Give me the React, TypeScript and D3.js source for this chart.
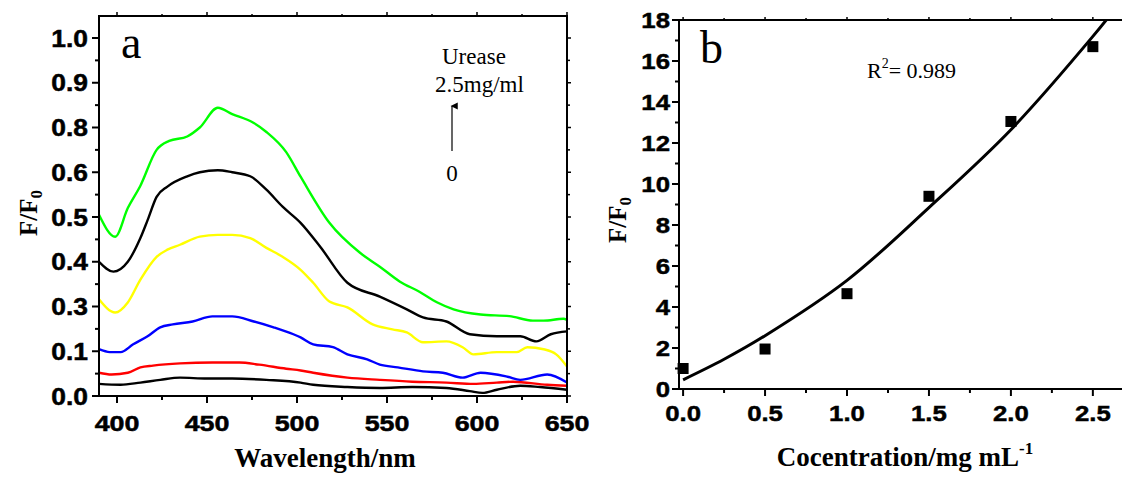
import React from "react";
import * as d3 from "d3";

const wavelengthTicks = [400, 450, 500, 550, 600, 650];
const ratioTickValues = [0, 0.1, 0.3, 0.4, 0.5, 0.6, 0.8, 0.9, 1.0];
const ratioTickLabels = ["0.0", "0.1", "0.3", "0.4", "0.5", "0.6", "0.8", "0.9", "1.0"];

const spectrum0: [number, number][] = [
  [390, 0.027], [402, 0.025], [413, 0.03], [424, 0.036], [435, 0.041], [450, 0.039],
  [464, 0.039], [483, 0.036], [502, 0.03], [509, 0.025], [528, 0.02], [546, 0.018],
  [564, 0.02], [583, 0.018], [596, 0.011], [603, 0.007], [611, 0.014], [624, 0.023],
  [635, 0.02], [650, 0.014],
];
const spectrum1: [number, number][] = [
  [390, 0.052], [397, 0.048], [406, 0.052], [413, 0.064], [420, 0.068], [435, 0.073],
  [453, 0.075], [468, 0.075], [479, 0.07], [494, 0.061], [502, 0.057], [509, 0.052],
  [528, 0.041], [546, 0.036], [564, 0.032], [583, 0.03], [598, 0.027], [611, 0.03],
  [620, 0.032], [639, 0.025], [650, 0.023],
];
const spectrum2: [number, number][] = [
  [390, 0.109], [396, 0.098], [402, 0.098], [409, 0.131], [417, 0.167], [424, 0.207],
  [431, 0.22], [442, 0.233], [453, 0.256], [464, 0.256], [476, 0.233], [487, 0.207],
  [498, 0.176], [502, 0.162], [509, 0.131], [520, 0.118], [528, 0.093], [539, 0.082],
  [546, 0.07], [556, 0.064], [570, 0.055], [581, 0.052], [592, 0.041], [602, 0.052],
  [617, 0.043], [624, 0.036], [639, 0.048], [650, 0.03],
];
const spectrum3: [number, number][] = [
  [390, 0.316], [399, 0.273], [406, 0.309], [413, 0.36], [422, 0.411], [428, 0.427],
  [435, 0.438], [446, 0.456], [456, 0.46], [464, 0.46], [474, 0.453], [483, 0.431],
  [492, 0.411], [502, 0.382], [509, 0.353], [518, 0.311], [528, 0.296], [542, 0.22],
  [553, 0.198], [561, 0.184], [570, 0.14], [583, 0.144], [592, 0.118], [598, 0.093],
  [611, 0.098], [622, 0.098], [628, 0.118], [637, 0.109], [644, 0.093], [650, 0.066],
];
const spectrum4: [number, number][] = [
  [390, 0.4], [398, 0.378], [406, 0.4], [413, 0.453], [417, 0.493], [422, 0.545],
  [428, 0.568], [439, 0.591], [446, 0.6], [456, 0.609], [464, 0.6], [474, 0.591],
  [483, 0.561], [492, 0.523], [502, 0.487], [513, 0.433], [528, 0.353], [546, 0.322],
  [561, 0.287], [570, 0.251], [583, 0.233], [596, 0.176], [611, 0.167], [624, 0.167],
  [633, 0.144], [641, 0.176], [650, 0.189],
];
const spectrum5: [number, number][] = [
  [390, 0.505], [399, 0.456], [406, 0.52], [413, 0.57], [422, 0.7], [429, 0.74],
  [439, 0.76], [446, 0.8], [456, 0.844], [464, 0.83], [476, 0.81], [483, 0.78],
  [494, 0.69], [502, 0.59], [518, 0.487], [535, 0.42], [546, 0.389], [557, 0.356],
  [568, 0.333], [578, 0.309], [587, 0.287], [602, 0.264], [618, 0.257], [631, 0.237],
  [637, 0.237], [648, 0.245], [650, 0.24],
];
const spectra = [spectrum0, spectrum1, spectrum2, spectrum3, spectrum4, spectrum5];
const spectrumColors = ["#000000", "#ff0000", "#0000ff", "#ffff00", "#000000", "#00ff00"];

// panel b: F/F0 vs concentration, plus the fitted curve
const concentrations = [0, 0.5, 1.0, 1.5, 2.0, 2.5];
const ratios = [1.0, 1.95, 4.65, 9.4, 13.05, 16.7];
const fitConcentrations = [0, 0.25, 0.5, 1.0, 1.5, 2.0, 2.5, 2.7];
const fitRatios = [0.45, 1.45, 2.6, 5.3, 8.85, 12.65, 17.2, 19.2];
const concTicks = [0, 0.5, 1.0, 1.5, 2.0, 2.5];
const concMinorTicks = [0.25, 0.75, 1.25, 1.75, 2.25];
const ratioTicksB = [0, 2, 4, 6, 8, 10, 12, 14, 16, 18];
const ratioMinorTicksB = [1, 3, 5, 7, 9, 11, 13, 15, 17];

const sans = "'Liberation Sans', Arial, sans-serif";
const serif = "'Liberation Serif', 'Times New Roman', serif";

const TickText = ({ x, y, text, anchor, size = 22, sx = 1.12 }: any) => (
  <text
    transform={`translate(${x},${y}) scale(${sx},1)`}
    textAnchor={anchor}
    fontFamily={sans}
    fontWeight="bold"
    fontSize={size}
    stroke="#000"
    strokeWidth={0.5}
  >
    {text}
  </text>
);

const App = () => {
  // panel a scales
  const xA = d3.scaleLinear().domain([390, 650]).range([99, 567]);
  const yA = d3
    .scaleLinear()
    .domain(ratioTickValues)
    .range(ratioTickValues.map((_, i) => 396 - i * 44.75));
  const aTop = 16;
  const aBottom = yA(0);
  const aLeft = xA(390);
  const aRight = xA(650);

  const wlMinor = d3.range(425, 650, 50);
  const yAPositions = ratioTickValues.map((v) => yA(v));
  const yAMinor = d3.range(yAPositions.length - 1).map((i) => (yAPositions[i] + yAPositions[i + 1]) / 2);

  const spectrumLine = d3
    .line<[number, number]>()
    .x((d) => xA(d[0]))
    .y((d) => yA(d[1]))
    .curve(d3.curveMonotoneX);

  // panel b scales
  const xB = d3.scaleLinear().domain([-0.025, 2.69]).range([679, 1124]);
  const yB = d3.scaleLinear().domain([0, 18]).range([389, 20]);
  const bLeft = xB(-0.025);
  const bRight = xB(2.69);

  const fitLine = d3
    .line<number>()
    .x((_, i) => xB(fitConcentrations[i]))
    .y((d) => yB(d))
    .curve(d3.curveCatmullRom);

  return (
    <svg
      width={1122}
      height={477}
      style={{ position: "absolute", left: 0, top: 0, background: "#fff" }}
    >
      <defs>
        <clipPath id="clipB">
          <rect x={bLeft} y={yB(18)} width={bRight - bLeft} height={yB(0) - yB(18)} />
        </clipPath>
        <marker id="arrowHead" viewBox="0 0 10 10" refX="5" refY="2" markerWidth="6" markerHeight="9" orient="auto-start-reverse">
          <path d="M0,10 L5,0 L10,10 Z" fill="#000" />
        </marker>
      </defs>

      {/* ---------- panel a ---------- */}
      <g>
        {spectra.map((s, i) => (
          <path key={i} d={spectrumLine(s) || ""} fill="none" stroke={spectrumColors[i]} strokeWidth={2.4} />
        ))}

        {/* frame */}
        <rect x={aLeft} y={aTop} width={aRight - aLeft} height={aBottom - aTop} fill="none" stroke="#000" strokeWidth={2} />

        {/* x ticks, bottom and top */}
        {wavelengthTicks.map((t) => (
          <g key={t}>
            <line x1={xA(t)} x2={xA(t)} y1={aBottom} y2={aBottom + 7} stroke="#000" strokeWidth={2} />
            <line x1={xA(t)} x2={xA(t)} y1={aTop} y2={aTop - 4} stroke="#000" strokeWidth={1.5} />
            <TickText x={xA(t)} y={aBottom + 35} text={String(t)} anchor="middle" size={22} sx={1.22} />
          </g>
        ))}
        {wlMinor.map((t) => (
          <g key={t}>
            <line x1={xA(t)} x2={xA(t)} y1={aBottom} y2={aBottom + 4} stroke="#000" strokeWidth={2} />
            <line x1={xA(t)} x2={xA(t)} y1={aTop} y2={aTop - 2} stroke="#000" strokeWidth={1.5} />
          </g>
        ))}

        {/* y ticks, left and right */}
        {ratioTickValues.map((v, i) => (
          <g key={v}>
            <line x1={aLeft} x2={aLeft - 7} y1={yA(v)} y2={yA(v)} stroke="#000" strokeWidth={2} />
            <line x1={aRight} x2={aRight + 4} y1={yA(v)} y2={yA(v)} stroke="#000" strokeWidth={1.5} />
            <TickText x={aLeft - 11} y={yA(v) + 8.5} text={ratioTickLabels[i]} anchor="end" size={24} sx={1.1} />
          </g>
        ))}
        {yAMinor.map((p, i) => (
          <g key={i}>
            <line x1={aLeft} x2={aLeft - 4} y1={p} y2={p} stroke="#000" strokeWidth={2} />
            <line x1={aRight} x2={aRight + 3} y1={p} y2={p} stroke="#000" strokeWidth={1.5} />
          </g>
        ))}

        {/* axis titles */}
        <text x={325} y={467} textAnchor="middle" fontFamily={serif} fontWeight="bold" fontSize={27}>
          Wavelength/nm
        </text>
        <text transform="translate(37,213) rotate(-90)" textAnchor="middle" fontFamily={serif} fontWeight="bold" fontSize={25}>
          F/F<tspan fontSize={17} dy={5}>0</tspan>
        </text>

        {/* annotations */}
        <text x={121} y={58} fontFamily={serif} fontSize={46}>a</text>
        <text x={442} y={64} fontFamily={serif} fontSize={23}>Urease</text>
        <text x={435} y={92} fontFamily={serif} fontSize={23}>2.5mg/ml</text>
        <line x1={452} x2={452} y1={151} y2={106} stroke="#000" strokeWidth={1.2} markerEnd="url(#arrowHead)" />
        <text x={452} y={181} textAnchor="middle" fontFamily={serif} fontSize={23}>0</text>
      </g>

      {/* ---------- panel b ---------- */}
      <g>
        <path
          d={fitLine(fitRatios) || ""}
          fill="none"
          stroke="#000"
          strokeWidth={3}
          clipPath="url(#clipB)"
        />
        {concentrations.map((c, i) => (
          <rect key={c} x={xB(c) - 5.5} y={yB(ratios[i]) - 5.5} width={11} height={11} fill="#000" />
        ))}

        {/* axes */}
        <line x1={bLeft} x2={bLeft} y1={yB(18)} y2={yB(0)} stroke="#000" strokeWidth={2} />
        <line x1={bLeft} x2={bRight} y1={yB(0)} y2={yB(0)} stroke="#000" strokeWidth={2} />
        <line x1={bLeft} x2={bRight} y1={yB(18)} y2={yB(18)} stroke="#000" strokeWidth={2} />

        {concTicks.map((t) => (
          <g key={t}>
            <line x1={xB(t)} x2={xB(t)} y1={yB(0)} y2={yB(0) + 7} stroke="#000" strokeWidth={2} />
            <line x1={xB(t)} x2={xB(t)} y1={yB(18)} y2={yB(18) - 3} stroke="#000" strokeWidth={1.5} />
            <TickText x={xB(t)} y={yB(0) + 32} text={t.toFixed(1)} anchor="middle" size={23} sx={1.12} />
          </g>
        ))}
        {concMinorTicks.map((t) => (
          <g key={t}>
            <line x1={xB(t)} x2={xB(t)} y1={yB(0)} y2={yB(0) + 4} stroke="#000" strokeWidth={2} />
            <line x1={xB(t)} x2={xB(t)} y1={yB(18)} y2={yB(18) - 2} stroke="#000" strokeWidth={1.5} />
          </g>
        ))}
        {ratioTicksB.map((t) => (
          <g key={t}>
            <line x1={bLeft} x2={bLeft - 7} y1={yB(t)} y2={yB(t)} stroke="#000" strokeWidth={2} />
            <TickText x={bLeft - 9} y={yB(t) + 8} text={String(t)} anchor="end" size={23} sx={1.12} />
          </g>
        ))}
        {ratioMinorTicksB.map((t) => (
          <line key={t} x1={bLeft} x2={bLeft - 4} y1={yB(t)} y2={yB(t)} stroke="#000" strokeWidth={2} />
        ))}

        {/* axis titles */}
        <text x={905} y={466} textAnchor="middle" fontFamily={serif} fontWeight="bold" fontSize={27}>
          Cocentration/mg mL<tspan fontSize={17} dy={-12}>-1</tspan>
        </text>
        <text transform="translate(626,220) rotate(-90)" textAnchor="middle" fontFamily={serif} fontWeight="bold" fontSize={25}>
          F/F<tspan fontSize={17} dy={5}>0</tspan>
        </text>

        {/* annotations */}
        <text x={700} y={63} fontFamily={serif} fontSize={46}>b</text>
        <text x={867} y={78} fontFamily={serif} fontSize={22}>
          R<tspan fontSize={14} dy={-10}>2</tspan>
          <tspan dy={10}>= 0.989</tspan>
        </text>
      </g>
    </svg>
  );
};

export default App;
